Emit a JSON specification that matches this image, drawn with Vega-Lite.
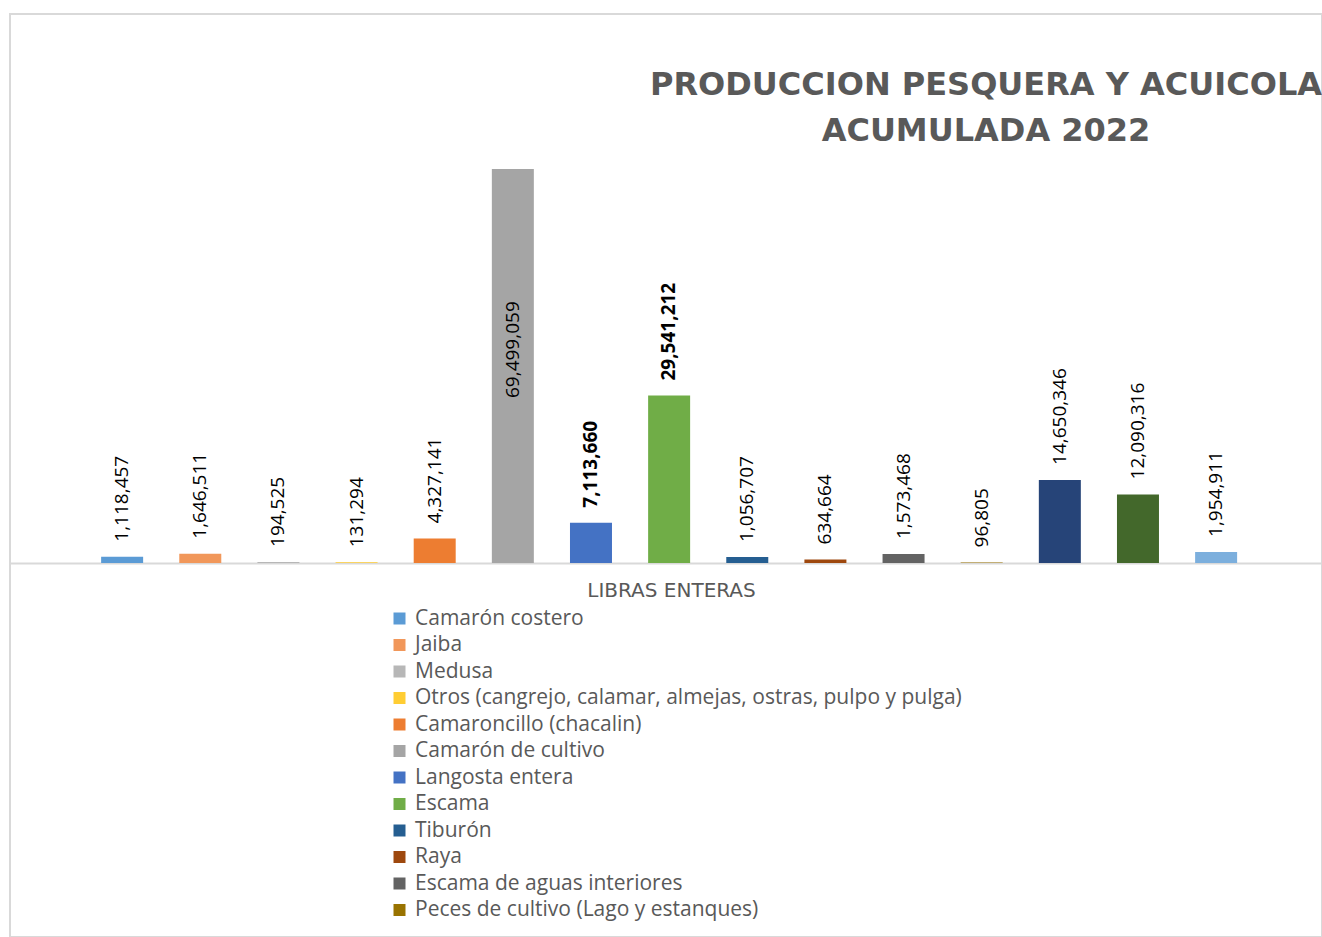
{
  "$schema": "https://vega.github.io/schema/vega-lite/v6.json",
  "width": 1312,
  "height": 923,
  "autosize": {"type": "none"},
  "padding": {"left": 10, "top": 14, "right": 0, "bottom": 0},
  "background": "white",
  "config": {"view": {"stroke": "#d9d9d9", "strokeWidth": 2}, "font": "Open Sans"},
  "title": {
    "text": ["PRODUCCION PESQUERA Y ACUICOLA", "ACUMULADA 2022"],
    "font": "DejaVu Sans",
    "fontSize": 32,
    "fontWeight": "bold",
    "color": "#595959",
    "anchor": "middle",
    "frame": "group",
    "orient": "top",
    "baseline": "top",
    "offset": 0,
    "dx": 320,
    "dy": 134,
    "lineHeight": 46
  },
  "data": {
    "values": [
      {"producto": "Camarón costero", "libras": 1118457},
      {"producto": "Jaiba", "libras": 1646511},
      {"producto": "Medusa", "libras": 194525},
      {"producto": "Otros (cangrejo, calamar, almejas, ostras, pulpo y pulga)", "libras": 131294},
      {"producto": "Camaroncillo (chacalin)", "libras": 4327141},
      {"producto": "Camarón de cultivo", "libras": 69499059},
      {"producto": "Langosta entera", "libras": 7113660},
      {"producto": "Escama", "libras": 29541212},
      {"producto": "Tiburón", "libras": 1056707},
      {"producto": "Raya", "libras": 634664},
      {"producto": "Escama de aguas interiores", "libras": 1573468},
      {"producto": "Peces de cultivo (Lago y estanques)", "libras": 96805},
      {"producto": "Tilapia", "libras": 14650346},
      {"producto": "Caracol", "libras": 12090316},
      {"producto": "Pepino de mar", "libras": 1954911}
    ]
  },
  "encoding": {
    "x": {
      "field": "producto",
      "type": "nominal",
      "sort": null,
      "scale": {"paddingInner": 0.21, "paddingOuter": 1, "align": 0.52},
      "axis": {
        "orient": "bottom",
        "offset": -374,
        "domain": true,
        "domainColor": "#d9d9d9",
        "domainWidth": 2,
        "ticks": false,
        "labels": false,
        "grid": false,
        "title": "LIBRAS ENTERAS",
        "titleFont": "DejaVu Sans",
        "titleFontSize": 20,
        "titleFontWeight": "normal",
        "titleColor": "#595959",
        "titlePadding": 17,
        "titleX": 661
      }
    },
    "y": {
      "field": "libras",
      "type": "quantitative",
      "scale": {"domain": [-65972000, 96841000], "nice": false},
      "axis": null
    }
  },
  "layer": [
    {
      "mark": {"type": "bar", "width": 42},
      "encoding": {
        "y2": {"datum": 0},
        "color": {
          "field": "producto",
          "type": "nominal",
          "scale": {
            "domain": ["Camarón costero", "Jaiba", "Medusa", "Otros (cangrejo, calamar, almejas, ostras, pulpo y pulga)", "Camaroncillo (chacalin)", "Camarón de cultivo", "Langosta entera", "Escama", "Tiburón", "Raya", "Escama de aguas interiores", "Peces de cultivo (Lago y estanques)", "Tilapia", "Caracol", "Pepino de mar"],
            "range": ["#5B9BD5", "#F1975A", "#B7B7B7", "#FFCD33", "#ED7D31", "#A5A5A5", "#4472C4", "#70AD47", "#255E91", "#9E480E", "#636363", "#997300", "#264478", "#43682B", "#7CAFDD"]
          },
          "legend": {
            "orient": "none",
            "legendX": 379,
            "legendY": 594,
            "direction": "vertical",
            "title": null,
            "values": ["Camarón costero", "Jaiba", "Medusa", "Otros (cangrejo, calamar, almejas, ostras, pulpo y pulga)", "Camaroncillo (chacalin)", "Camarón de cultivo", "Langosta entera", "Escama", "Tiburón", "Raya", "Escama de aguas interiores", "Peces de cultivo (Lago y estanques)"],
            "symbolType": "square",
            "symbolSize": 144,
            "symbolStrokeWidth": 0,
            "labelFont": "Open Sans",
            "labelFontSize": 21,
            "labelColor": "#595959",
            "labelOffset": 5,
            "rowPadding": 4.5,
            "labelLimit": 0,
            "padding": 0
          }
        }
      }
    },
    {
      "transform": [{"filter": "datum.producto !== 'Camarón de cultivo' && datum.producto !== 'Langosta entera' && datum.producto !== 'Escama'"}],
      "mark": {"type": "text", "angle": 270, "align": "left", "baseline": "middle", "dx": 15, "font": "Open Sans", "fontSize": 19, "color": "#000000"},
      "encoding": {
        "text": {"field": "libras", "type": "quantitative", "format": ",d"}
      }
    },
    {
      "transform": [{"filter": "datum.producto === 'Langosta entera' || datum.producto === 'Escama'"}],
      "mark": {"type": "text", "angle": 270, "align": "left", "baseline": "middle", "dx": 15, "font": "Open Sans", "fontSize": 19, "fontWeight": "bold", "color": "#000000"},
      "encoding": {
        "text": {"field": "libras", "type": "quantitative", "format": ",d"}
      }
    },
    {
      "transform": [{"filter": "datum.producto === 'Camarón de cultivo'"}],
      "mark": {"type": "text", "angle": 270, "align": "left", "baseline": "middle", "dx": -229, "font": "Open Sans", "fontSize": 19, "color": "#000000"},
      "encoding": {
        "text": {"field": "libras", "type": "quantitative", "format": ",d"}
      }
    }
  ]
}
